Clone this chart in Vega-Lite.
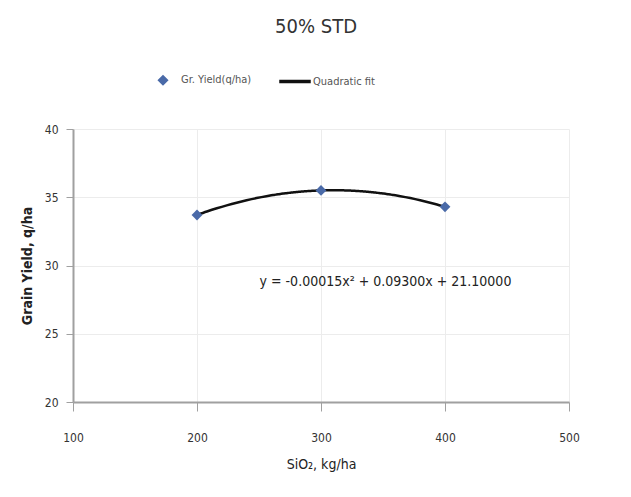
{
  "$schema": "https://vega.github.io/schema/vega-lite/v6.json",
  "width": 496,
  "height": 273,
  "autosize": {"type": "none"},
  "padding": {"left": 73, "top": 129, "right": 62, "bottom": 95},
  "background": "white",
  "config": {
    "font": "Liberation Sans Narrow, DejaVu Sans Condensed, sans-serif",
    "view": {"stroke": null},
    "axis": {
      "domainColor": "#a0a0a0",
      "domainWidth": 2,
      "gridColor": "#ececec",
      "tickColor": "#a0a0a0",
      "labelColor": "#333",
      "labelFontSize": 12,
      "titleColor": "#222",
      "titleFontSize": 14,
      "titleFontWeight": "normal"
    }
  },
  "title": {
    "text": "50% STD",
    "fontSize": 20,
    "fontWeight": "normal",
    "color": "#333",
    "anchor": "middle",
    "dx": -5,
    "offset": 27
  },
  "data": {
    "values": [
      {"x": 200, "y": 33.7, "series": "Gr. Yield(q/ha)"},
      {"x": 300, "y": 35.5, "series": "Gr. Yield(q/ha)"},
      {"x": 400, "y": 34.3, "series": "Gr. Yield(q/ha)"}
    ]
  },
  "layer": [
    {
      "transform": [
        {"regression": "y", "on": "x", "method": "poly", "order": 2, "extent": [200, 400]},
        {"calculate": "'Quadratic fit'", "as": "series"}
      ],
      "mark": {"type": "line", "strokeWidth": 2.5, "interpolate": "monotone"},
      "encoding": {
        "x": {"field": "x", "type": "quantitative"},
        "y": {"field": "y", "type": "quantitative"},
        "color": {"field": "series", "type": "nominal"}
      }
    },
    {
      "mark": {"type": "point", "filled": true, "size": 1300, "opacity": 1},
      "encoding": {
        "x": {
          "field": "x", "type": "quantitative",
          "scale": {"domain": [100, 500], "nice": false, "zero": false},
          "axis": {"values": [100, 200, 300, 400, 500], "title": "SiO₂, kg/ha", "tickSize": 9, "labelPadding": 21, "titlePadding": 14, "grid": true, "labelFlush": false}
        },
        "y": {
          "field": "y", "type": "quantitative",
          "scale": {"domain": [20, 40], "nice": false, "zero": false},
          "axis": {"values": [20, 25, 30, 35, 40], "title": "Grain Yield, q/ha", "tickSize": 7, "labelPadding": 8, "titlePadding": 10, "grid": true, "titleFontWeight": "bold", "labelFlush": false}
        },
        "color": {
          "field": "series", "type": "nominal",
          "scale": {"domain": ["Gr. Yield(q/ha)", "Quadratic fit"], "range": ["#4a6aa8", "#111111"]},
          "legend": {"title": null, "orient": "none", "direction": "horizontal", "legendX": 74, "legendY": -65, "labelFontSize": 11, "labelColor": "#555", "symbolSize": 900, "columnPadding": 25, "labelOffset": 2}
        },
        "shape": {
          "field": "series", "type": "nominal",
          "scale": {"domain": ["Gr. Yield(q/ha)", "Quadratic fit"], "range": ["M0,-0.3L0.3,0L0,0.3L-0.3,0Z", "M-1,-0.06L1,-0.06L1,0.06L-1,0.06Z"]},
          "legend": {"title": null, "orient": "none", "direction": "horizontal", "legendX": 74, "legendY": -65, "labelFontSize": 11, "labelColor": "#555", "symbolSize": 900, "columnPadding": 25, "labelOffset": 2}
        }
      }
    },
    {
      "data": {"values": [{"x": 352, "y": 28.8, "label": "y = -0.00015x² + 0.09300x + 21.10000"}]},
      "mark": {"type": "text", "fontSize": 14, "color": "#222"},
      "encoding": {
        "x": {"field": "x", "type": "quantitative"},
        "y": {"field": "y", "type": "quantitative"},
        "text": {"field": "label"}
      }
    }
  ]
}
